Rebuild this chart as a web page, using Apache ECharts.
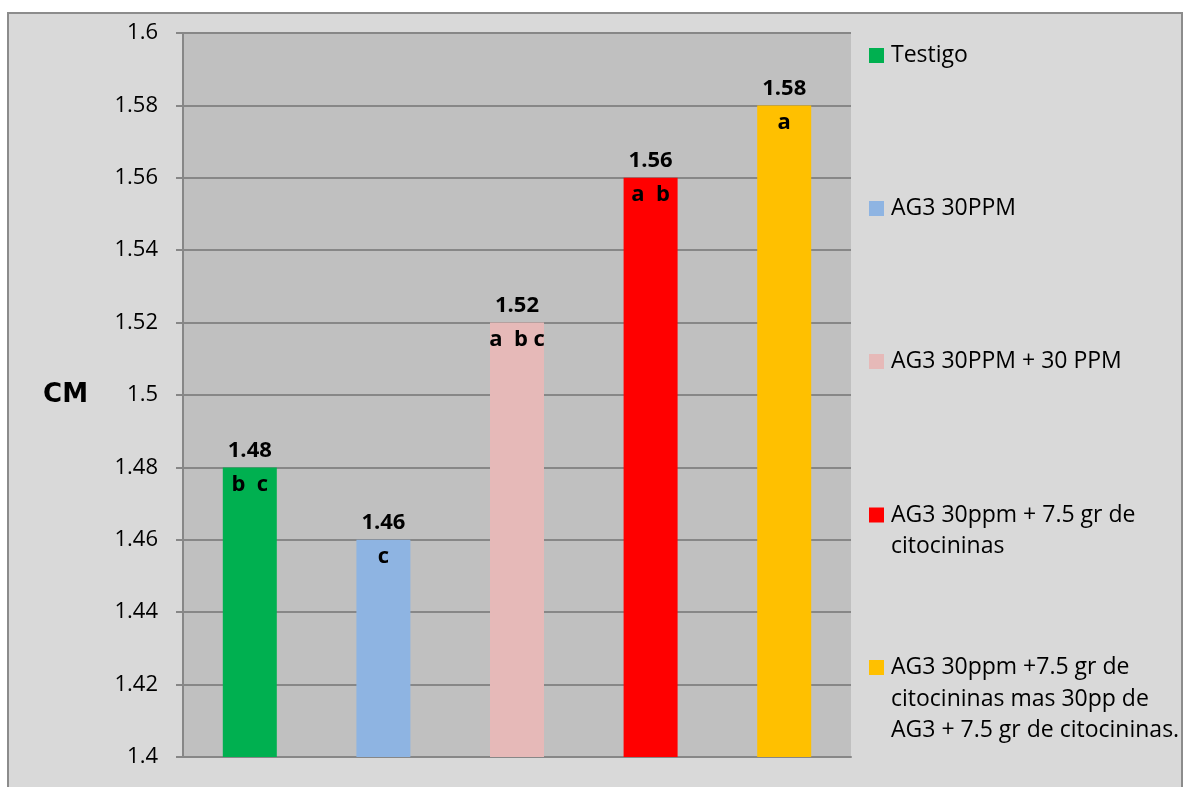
<!DOCTYPE html>
<html>
<head>
<meta charset="utf-8">
<script src="https://cdn.jsdelivr.net/npm/echarts@6/dist/echarts.min.js"></script>
<style>
  html, body { margin: 0; padding: 0; width: 1185px; height: 787px; background: #ffffff; overflow: hidden; }
  #frame { position: absolute; left: 7px; top: 12px; width: 1176px; height: 800px; background: #d9d9d9; border: 2px solid #8c8c8c; box-sizing: border-box; }
  #chart { position: absolute; left: 0; top: 0; width: 1185px; height: 787px; }
</style>
</head>
<body>
<div id="frame"></div>
<div id="chart"></div>
<script>
// Treatments (one bar each) and their mean lengths in cm
const treatments = [
  'Testigo',
  'AG3 30PPM',
  'AG3 30PPM + 30 PPM',
  'AG3 30ppm + 7.5 gr de citocininas',
  'AG3 30ppm +7.5 gr de citocininas mas 30pp de AG3 + 7.5 gr de citocininas.'
];
// Legend text broken into lines
const legendLines = [
  ['Testigo'],
  ['AG3 30PPM'],
  ['AG3 30PPM + 30 PPM'],
  ['AG3 30ppm + 7.5 gr de', 'citocininas'],
  ['AG3 30ppm +7.5 gr de', 'citocininas mas 30pp de', 'AG3 + 7.5 gr de citocininas.']
];
const values = [1.48, 1.46, 1.52, 1.56, 1.58];
// Significance groups (letters) shown inside each bar
const groups = ['b  c', 'c', 'a  b c', 'a  b', 'a'];
const colors = ['#00b050', '#8eb4e2', '#e6b9b8', '#ff0000', '#ffc000'];
// Y axis range and step
const yMin = 1.4, yMax = 1.6, yStep = 0.02;

const FONT = '"Open Sans", Lato, sans-serif';
const LINE_H = 31.5;
const legendCenters = [55.5, 208.5, 361.5, 515, 667.5];

const slot = (i, v) => treatments.map((_, j) => (j === i ? v : '-'));

const series = [];
treatments.forEach((name, i) => {
  series.push({
    name: name,
    type: 'bar',
    barWidth: 54,
    barGap: '-100%',
    data: slot(i, values[i]),
    itemStyle: { color: colors[i] },
    label: {
      show: true,
      position: 'top',
      distance: 6,
      formatter: p => String(p.value),
      color: '#000',
      fontFamily: FONT,
      fontWeight: 'bold',
      fontSize: 22,
      lineHeight: 22
    }
  });
});
treatments.forEach((name, i) => {
  series.push({
    name: name + ' (grupo)',
    type: 'bar',
    barWidth: 54,
    barGap: '-100%',
    data: slot(i, values[i]),
    itemStyle: { color: 'rgba(0,0,0,0)' },
    label: {
      show: true,
      position: 'insideTop',
      distance: 6,
      formatter: () => groups[i],
      color: '#000',
      fontFamily: FONT,
      fontWeight: 'bold',
      fontSize: 22,
      lineHeight: 22
    },
    silent: true
  });
});

const legends = treatments.map((name, i) => {
  const n = legendLines[i].length;
  const h = (2 * n - 1) * LINE_H;
  return {
    orient: 'vertical',
    left: 869,
    top: legendCenters[i] - h / 2,
    padding: 0,
    itemWidth: 15,
    itemHeight: 15,
    icon: 'rect',
    data: [name],
    selectedMode: false,
    formatter: () => '\n'.repeat(n - 1) + legendLines[i].join('\n'),
    textStyle: {
      color: '#000',
      fontFamily: FONT,
      fontSize: 23,
      lineHeight: LINE_H,
      padding: [0, 0, 0, 2]
    }
  };
});

const chart = echarts.init(document.getElementById('chart'), null, { renderer: 'canvas' });
chart.setOption({
  backgroundColor: 'transparent',
  animation: false,
  legend: legends,
  grid: {
    left: 183, right: 334, top: 33, bottom: 30,
    show: true, backgroundColor: '#c0c0c0', borderWidth: 0
  },
  xAxis: {
    type: 'category',
    data: treatments,
    axisLabel: { show: false },
    axisTick: { show: false },
    axisLine: { show: true, lineStyle: { color: '#878787', width: 2 } },
    splitLine: { show: false }
  },
  yAxis: {
    type: 'value',
    min: yMin,
    max: yMax,
    interval: yStep,
    name: 'CM',
    nameLocation: 'middle',
    nameRotate: 0,
    nameGap: 95,
    nameTextStyle: {
      color: '#000',
      fontFamily: '"DejaVu Sans", "Liberation Sans", sans-serif',
      fontWeight: 'bold',
      fontSize: 26,
      padding: [0, 0, 32, 0]
    },
    axisLine: { show: true, lineStyle: { color: '#878787', width: 2 } },
    axisTick: { show: true, length: 7, lineStyle: { color: '#878787', width: 2 } },
    axisLabel: {
      margin: 25,
      color: '#000',
      fontFamily: FONT,
      fontSize: 22,
      formatter: v => String(Math.round(v * 100) / 100)
    },
    splitLine: { show: true, lineStyle: { color: '#878787', width: 2 } }
  },
  series: series
});
</script>
</body>
</html>
